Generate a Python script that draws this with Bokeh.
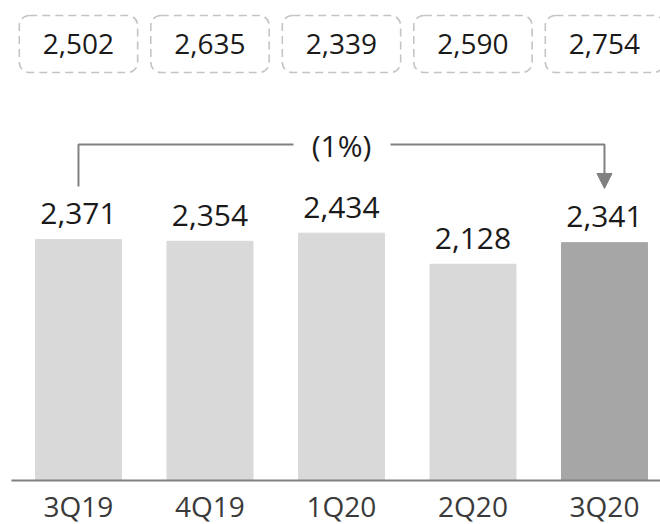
from bokeh.plotting import figure
from bokeh.models import ColumnDataSource, Arrow, NormalHead
from bokeh.core.properties import value
from bokeh.embed import file_html
from bokeh.resources import INLINE

# ---- data ----
categories = ["3Q19", "4Q19", "1Q20", "2Q20", "3Q20"]
bar_values = [2371, 2354, 2434, 2128, 2341]
box_values = [2502, 2635, 2339, 2590, 2754]
change_label = "(1%)"

FONT = "Open Sans"
LIGHT = "#d9d9d9"
DARK = "#a6a6a6"
GREY = "#808080"

xs = list(range(len(categories)))
bar_colors = [LIGHT] * (len(categories) - 1) + [DARK]

p = figure(width=660, height=524, output_backend="svg", toolbar_location=None,
           x_range=(-0.593, 4.426), y_range=(-433, 4724), min_border=0,
           outline_line_color=None)
p.grid.visible = False
p.xaxis.visible = False
p.yaxis.visible = False

bars = ColumnDataSource(dict(x=xs, top=bar_values, color=bar_colors,
                             label=[f"{v:,}" for v in bar_values],
                             cat=categories, zero=[0] * len(xs)))
p.vbar(x="x", top="top", width=0.654, bottom=0, color="color", source=bars)
p.text(x="x", y="top", text="label", source=bars, text_align="center",
       text_baseline="middle", y_offset=-26, text_font=value(FONT),
       text_font_size="30px", text_color="#1a1a1a")

# baseline (axis line) and category labels
p.segment(x0=[-0.51], y0=[0], x1=[4.6], y1=[0], line_color=GREY, line_width=2)
p.text(x="x", y="zero", text="cat", source=bars, text_align="center",
       text_baseline="middle", y_offset=25, text_font=value(FONT),
       text_font_size="28px", text_color="#3a3a3a")

# dashed rounded boxes on top
box_top, box_bottom = 4577, 4016
boxes = ColumnDataSource(dict(left=[x - 0.45 for x in xs], right=[x + 0.45 for x in xs],
                              label=[f"{v:,}" for v in box_values],
                              x=xs, y=[(box_top + box_bottom) / 2] * len(xs)))
p.quad(left="left", right="right", top=box_top, bottom=box_bottom, source=boxes,
       fill_color=None, line_color="#c4c4c4", line_width=1.6, line_dash="8 5",
       border_radius=10)
p.text(x="x", y="y", text="label", source=boxes, text_align="center",
       text_baseline="middle", text_font=value(FONT), text_font_size="28px",
       text_color="#1a1a1a")

# bracket with change label
br_y = 3307
p.line(x=[xs[0], xs[0], 1.635], y=[2894, br_y, br_y], line_color=GREY, line_width=2)
p.line(x=[2.373, xs[-1], xs[-1]], y=[br_y, br_y, 3000], line_color=GREY, line_width=2)
p.add_layout(Arrow(end=NormalHead(size=15, fill_color=GREY, line_color=GREY),
                   x_start=xs[-1], y_start=3010, x_end=xs[-1], y_end=2874,
                   line_color=GREY, line_width=2))
p.text(x=[2.0], y=[br_y], text=[change_label], text_align="center",
       text_baseline="middle", y_offset=1, text_font=value(FONT),
       text_font_size="30px", text_color="#1a1a1a")

open("out.html", "w").write(file_html(p, INLINE))
